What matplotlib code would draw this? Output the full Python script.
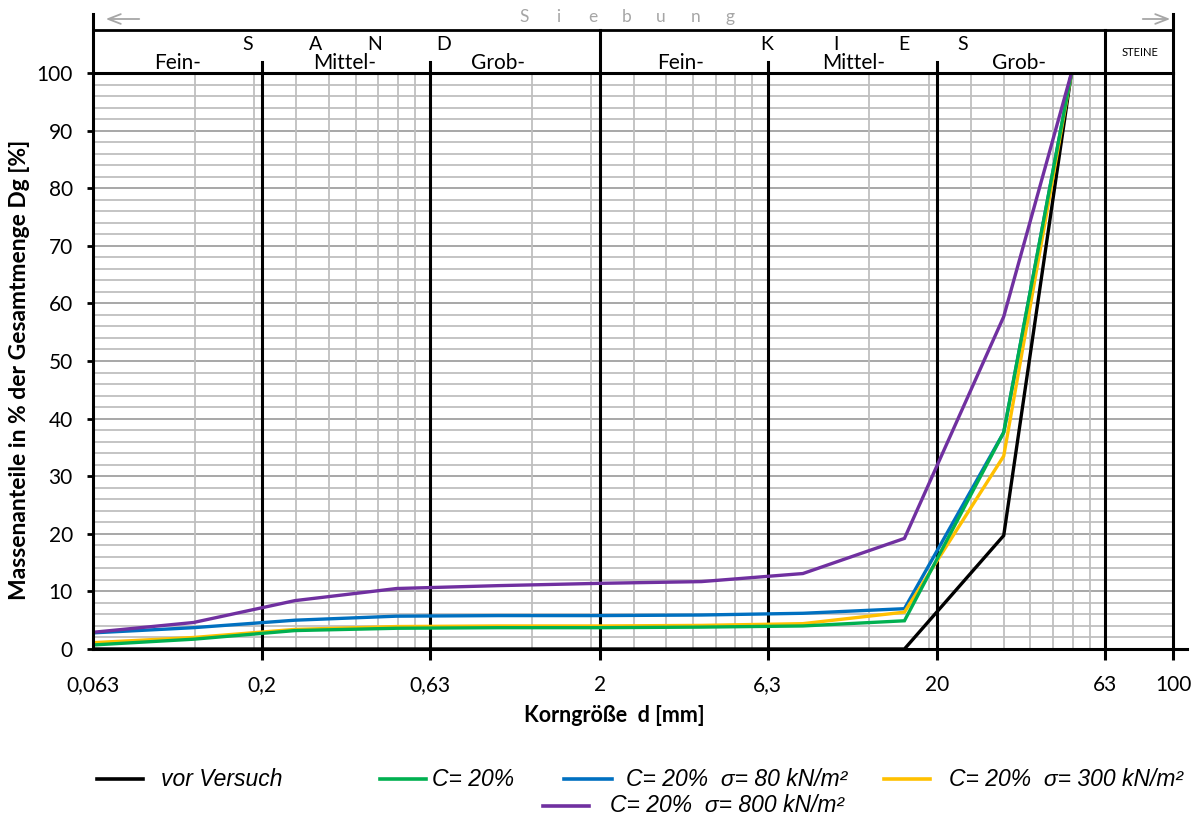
import numpy as np
import matplotlib
matplotlib.use('Agg')
import matplotlib.pyplot as plt
from matplotlib.lines import Line2D
import matplotlib.transforms as mtransforms

# ---------------- data ----------------
sieve_mm = [0.063, 0.125, 0.25, 0.5, 1, 2, 4, 8, 16, 31.5, 50]
vor_versuch = [0, 0, 0, 0, 0, 0, 0, 0, 0, 19.7, 100]
c20 = [0.7, 1.7, 3.2, 3.6, 3.7, 3.7, 3.8, 4.0, 4.9, 37.6, 100]
c20_s80 = [2.8, 3.7, 5.0, 5.7, 5.8, 5.8, 5.9, 6.2, 7.0, 37.6, 100]
c20_s300 = [1.1, 2.0, 3.4, 3.9, 4.0, 4.0, 4.1, 4.4, 6.4, 33.5, 100]
c20_s800 = [2.9, 4.6, 8.4, 10.5, 11.0, 11.4, 11.7, 13.1, 19.2, 57.7, 100]

series_labels = ["vor Versuch", "C= 20%", "C= 20%  σ= 80 kN/m²",
                 "C= 20%  σ= 300 kN/m²", "C= 20%  σ= 800 kN/m²"]
series_colors = ["#000000", "#00B050", "#0070C0", "#FFC000", "#7030A0"]

x_ticks = [0.063, 0.2, 0.63, 2, 6.3, 20, 63, 100]
x_tick_labels = ["0,063", "0,2", "0,63", "2", "6,3", "20", "63", "100"]
boundaries = [0.2, 0.63, 2, 6.3, 20, 63]
decade_bases = [0.063, 0.63, 6.3, 63]
y_ticks = list(range(0, 101, 10))

sand_sub = ["Fein-", "Mittel-", "Grob-"]
kies_sub = ["Fein-", "Mittel-", "Grob-"]

# ---------------- figure ----------------
W, H = 1200, 823
fig = plt.figure(figsize=(12, 8.23), dpi=100)
L, R, T, B = 93, 1173, 73, 649
ax = fig.add_axes([L / W, 1 - B / H, (R - L) / W, (B - T) / H])
ax.set_xscale('log')
ax.set_xlim(0.063, 100)
ax.set_ylim(0, 100)

def xa(px):
    return (px - L) / (R - L)

def ya(py):
    return (B - py) / (B - T)

FONT = "Lato"
GRID = "#BFBFBF"
FS = 15

# horizontal grid
for v in range(2, 100, 2):
    c = "#A0A0A0" if v % 10 == 0 else GRID
    ax.axhline(v, color=c, lw=1.3, zorder=1)

# vertical minor grid
for base in decade_bases:
    for k in range(2, 10):
        v = base * k
        if v < 100:
            ax.axvline(v, color=GRID, lw=1.3, zorder=1)

# boundary lines
for v in boundaries:
    ax.axvline(v, color="black", lw=2.2, zorder=2)

# data
draw_order = [0, 2, 3, 1, 4]
all_series = [vor_versuch, c20, c20_s80, c20_s300, c20_s800]
for z, i in enumerate(draw_order):
    ax.plot(sieve_mm, all_series[i], color=series_colors[i], lw=2.4,
            solid_joinstyle='miter', zorder=5 + z)

# spines
for s in ax.spines.values():
    s.set_linewidth(2.2)
    s.set_color("black")
    s.set_zorder(12)

ax.set_xticks(x_ticks)
ax.set_xticklabels(x_tick_labels, fontfamily=FONT, fontsize=FS)
ax.xaxis.set_minor_locator(matplotlib.ticker.NullLocator())
ax.tick_params(axis='x', which='major', direction='out', length=8, width=2.2,
               pad=11, color='black')
ax.xaxis.get_major_ticks()[0].tick1line.set_visible(False)
ax.set_yticks(y_ticks)
ax.set_yticklabels([str(v) for v in y_ticks], fontfamily=FONT, fontsize=FS)
ax.tick_params(axis='y', direction='out', length=4.5, width=2, pad=10)

# extended x-axis line to right
ax.add_line(Line2D([1.0, xa(1187)], [0, 0], transform=ax.transAxes,
                   color='black', lw=2.2, clip_on=False, zorder=12))

# ---------------- header ----------------
hdr = dict(transform=ax.transAxes, color='black', clip_on=False, zorder=12)
ax.add_line(Line2D([0, 1], [ya(30), ya(30)], lw=2, **hdr))
ax.add_line(Line2D([0, 0], [1, ya(14)], lw=2.2, **hdr))
ax.add_line(Line2D([1, 1], [1, ya(14)], lw=2.2, **hdr))
blend = mtransforms.blended_transform_factory(ax.transData, ax.transAxes)
for v in [2, 63]:
    ax.add_line(Line2D([v, v], [1, ya(30)], transform=blend, color='black',
                       lw=2.2, clip_on=False, zorder=12))
for v in [0.2, 0.63, 6.3, 20]:
    ax.add_line(Line2D([v, v], [1, ya(62)], transform=blend, color='black',
                       lw=2.2, clip_on=False, zorder=12))

sub_kw = dict(transform=ax.transAxes, ha='center', va='baseline',
              fontfamily=FONT, fontsize=FS, clip_on=False)
let_kw = dict(transform=ax.transAxes, ha='center', va='baseline',
              fontfamily=FONT, fontsize=14, clip_on=False)
for label, px in zip(sand_sub, [178, 345, 498]):
    ax.text(xa(px), ya(69), label, **sub_kw)
for label, px in zip(kies_sub, [681, 854, 1019]):
    ax.text(xa(px), ya(69), label, **sub_kw)
for ch, px in zip("SAND", [248, 316, 375, 444]):
    ax.text(xa(px), ya(49.5), ch, **let_kw)
for ch, px in zip("KIES", [767, 836, 904, 963]):
    ax.text(xa(px), ya(49.5), ch, **let_kw)
ax.text(xa(1140), ya(52), "STEINE", transform=ax.transAxes, ha='center',
        va='center', fontfamily=FONT, fontsize=8, clip_on=False)

# Siebung
for j, ch in enumerate("Siebung"):
    ax.text(xa(524 + j * 34.3), ya(17), ch, transform=ax.transAxes,
            ha='center', va='center', fontfamily=FONT, fontsize=12.5,
            color='#A6A6A6', clip_on=False)
arrow_kw = dict(arrowstyle='->,head_length=0.9,head_width=0.35', color='#A6A6A6', lw=1.3)
ax.annotate("", xy=(xa(103), ya(19)), xytext=(xa(142), ya(19)),
            xycoords='axes fraction', textcoords='axes fraction',
            arrowprops=arrow_kw, annotation_clip=False)
ax.annotate("", xy=(xa(1173), ya(19)), xytext=(xa(1140), ya(19)),
            xycoords='axes fraction', textcoords='axes fraction',
            arrowprops=arrow_kw, annotation_clip=False)

# axis labels
fig.text(20 / W, 1 - 370 / H, "Massenanteile in % der Gesamtmenge Dg [%]",
         rotation=90, ha='center', va='center', fontfamily=FONT,
         fontweight='bold', fontsize=16.5)
fig.text(614 / W, 1 - 716 / H, "Korngröße  d [mm]", ha='center', va='center',
         fontfamily=FONT, fontweight='bold', fontsize=15.5)

# ---------------- legend (manual layout) ----------------
leg_items = [  # (line x0, line x1, text x, y) in pixels
    (97, 143, 161, 779),
    (380, 426, 432, 779),
    (564, 612, 626, 779),
    (884, 930, 949, 779),
    (543, 589, 610, 806),
]
for i, (x0, x1, tx, y) in enumerate(leg_items):
    fig.add_artist(Line2D([x0 / W, x1 / W], [1 - y / H, 1 - y / H],
                          color=series_colors[i], lw=2.6))
    fig.text(tx / W, 1 - y / H, series_labels[i], ha='left', va='center',
             fontfamily='Liberation Sans', style='italic', fontsize=16.5)

fig.savefig("out.png", dpi=100)
